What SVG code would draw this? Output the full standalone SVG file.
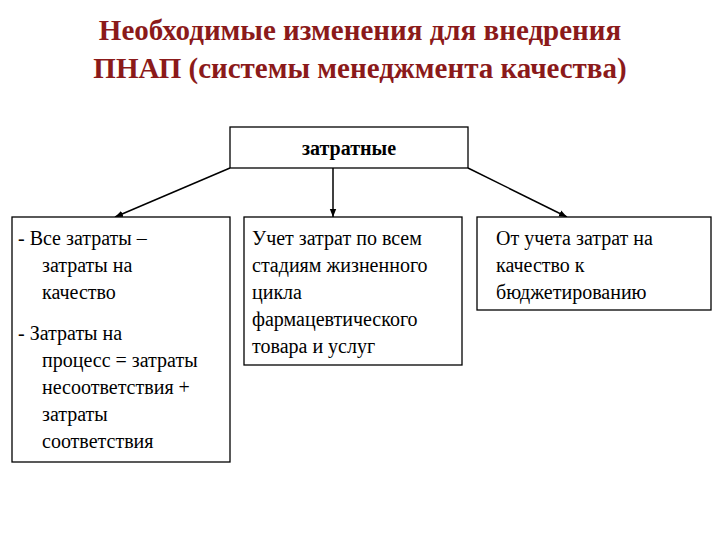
<svg xmlns="http://www.w3.org/2000/svg" width="720" height="540" viewBox="0 0 720 540" font-family="'Liberation Serif', 'Times New Roman', 'DejaVu Serif', serif">
<defs>
<marker id="ah" viewBox="0 0 10 10" refX="10" refY="5" markerWidth="8" markerHeight="8" orient="auto-start-reverse" markerUnits="userSpaceOnUse"><path d="M0,1 L10,5 L0,9 z" fill="#000"/></marker>
<style>
.b{fill:#fff;stroke:#000;stroke-width:1.3}
.t{font-size:20px;fill:#000}
.h{font-size:29px;font-weight:bold;fill:#8b1a1a}
.c{stroke:#000;stroke-width:1.5;fill:none;marker-end:url(#ah)}
</style>
</defs>
<rect width="720" height="540" fill="#fff"/>
<text class="h" x="360" y="40" text-anchor="middle">Необходимые изменения для внедрения</text>
<text class="h" x="360" y="78" text-anchor="middle">ПНАП (системы менеджмента качества)</text>
<g id="connectors">
<line class="c" x1="230" y1="168" x2="115" y2="217"/>
<line class="c" x1="333" y1="168" x2="333" y2="217"/>
<line class="c" x1="468" y1="168" x2="567" y2="217"/>
</g>
<g id="top"><rect class="b" x="230" y="127" width="238" height="41"/>
<text class="t" x="349" y="155" text-anchor="middle" font-size="22" font-weight="bold">затратные</text></g>
<g id="left"><rect class="b" x="12" y="217" width="218" height="245"/>
<text class="t" x="18" y="245">-  Все затраты –</text>
<text class="t" x="42" y="272">затраты на</text>
<text class="t" x="42" y="299">качество</text>
<text class="t" x="18" y="340">-  Затраты на</text>
<text class="t" x="42" y="367">процесс = затраты</text>
<text class="t" x="42" y="394">несоответствия +</text>
<text class="t" x="42" y="421">затраты</text>
<text class="t" x="42" y="448">соответствия</text></g>
<g id="middle"><rect class="b" x="244" y="217" width="218" height="148"/>
<text class="t" x="252" y="245">Учет затрат по всем</text>
<text class="t" x="252" y="272">стадиям жизненного</text>
<text class="t" x="252" y="299">цикла</text>
<text class="t" x="252" y="326">фармацевтического</text>
<text class="t" x="252" y="353">товара и услуг</text></g>
<g id="right"><rect class="b" x="477" y="217" width="234" height="93"/>
<text class="t" x="496" y="245">От учета затрат на</text>
<text class="t" x="496" y="272">качество к</text>
<text class="t" x="496" y="299">бюджетированию</text></g>
</svg>
